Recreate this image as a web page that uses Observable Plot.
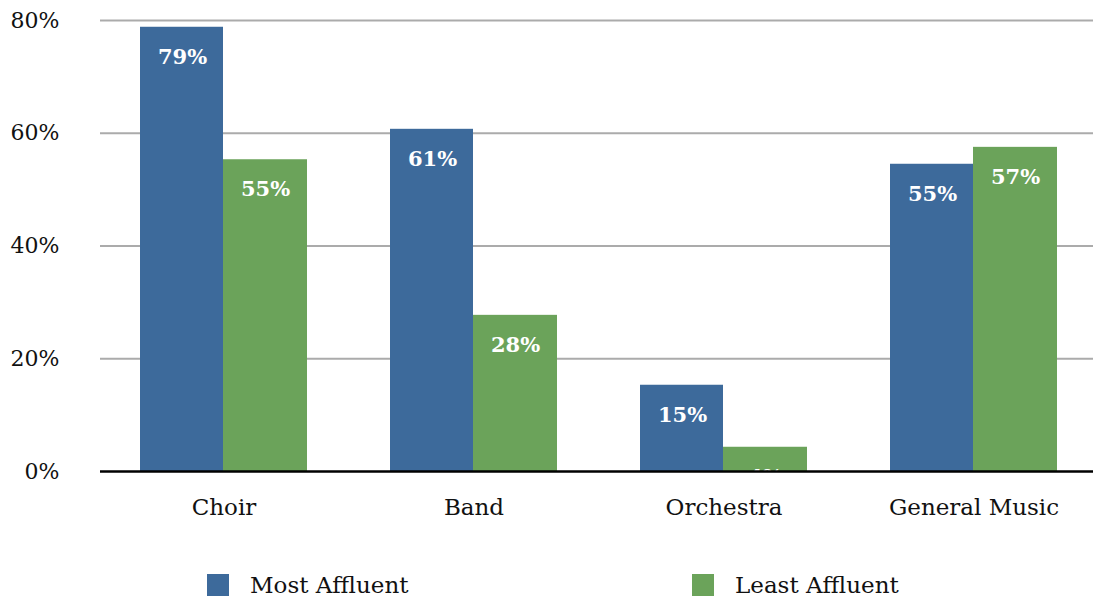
<!DOCTYPE html>
<html>
<head>
<meta charset="utf-8">
<script src="https://cdn.jsdelivr.net/npm/d3@7"></script>
<script src="https://cdn.jsdelivr.net/npm/@observablehq/plot@0.6"></script>
<style>
  html, body { margin: 0; padding: 0; background: #fff; }
  #wrap { width: 1093px; font-family: "DejaVu Serif", serif; }
  #legend { position: relative; width: 1093px; height: 54px; }
  .sw { position: absolute; top: 29px; width: 22px; height: 22px; }
  .lt { position: absolute; top: 26px; font-size: 23px; line-height: 28px; color: #111; }
</style>
</head>
<body>
<div id="wrap"></div>
<script>
const categories = ["Choir", "Band", "Orchestra", "General Music"];
const series = ["Most Affluent", "Least Affluent"];
const mostAffluent = [78.8, 60.7, 15.3, 54.5];
const leastAffluent = [55.3, 27.7, 4.3, 57.5];
const mostLabels = ["79%", "61%", "15%", "55%"];
const leastLabels = ["55%", "28%", "4%", "57%"];
const yTicks = [0, 20, 40, 60, 80];
const colors = ["#3D6A9B", "#6BA35A"];

const most = categories.map((c, i) => ({category: c, value: mostAffluent[i], label: mostLabels[i]}));
const least = categories.map((c, i) => ({category: c, value: leastAffluent[i], label: leastLabels[i]}));

const chart = Plot.plot({
  width: 1093,
  height: 545,
  marginLeft: 100,
  marginRight: -4,
  marginTop: 20,
  marginBottom: 74,
  style: {fontFamily: "DejaVu Serif, serif", fontSize: "22px", color: "#111", background: "#fff"},
  x: {domain: categories, paddingInner: 0.332, paddingOuter: 0.16, label: null, tickSize: 0, tickPadding: 27},
  y: {domain: [0, 80], ticks: yTicks, tickFormat: d => d + "%", tickSize: 0, tickPadding: 41, label: null},
  marks: [
    Plot.ruleY(yTicks.filter(d => d > 0), {stroke: "#ababab", strokeWidth: 2}),
    Plot.barY(most, {x: "category", y: "value", fill: colors[0], insetRight: 84}),
    Plot.barY(least, {x: "category", y: "value", fill: colors[1], insetLeft: 83}),
    Plot.text(most, {x: "category", y: "value", text: "label", dx: -41.5, dy: 30, fill: "white", fontWeight: "bold", fontSize: 21}),
    Plot.text(least, {x: "category", y: "value", text: "label", dx: 41.5, dy: 30, fill: "white", fontWeight: "bold", fontSize: 21}),
    Plot.ruleY([0], {stroke: "#000", strokeWidth: 2.5})
  ]
});
chart.querySelectorAll("g[aria-label^='x-axis']").forEach(g => {
  g.setAttribute("font-size", "23");
  g.querySelectorAll("text").forEach(t => t.setAttribute("font-size", "23"));
});
chart.querySelectorAll("g[aria-label^='y-axis']").forEach(g => {
  g.setAttribute("font-size", "22");
  g.querySelectorAll("text").forEach(t => t.setAttribute("font-size", "22"));
});

const wrap = document.getElementById("wrap");
wrap.appendChild(chart);

const legend = document.createElement("div");
legend.id = "legend";
const pos = [[207, 250], [692, 735]];
series.forEach((s, i) => {
  const sw = document.createElement("div");
  sw.className = "sw";
  sw.style.left = pos[i][0] + "px";
  sw.style.background = colors[i];
  const lt = document.createElement("div");
  lt.className = "lt";
  lt.style.left = pos[i][1] + "px";
  lt.textContent = s;
  legend.appendChild(sw);
  legend.appendChild(lt);
});
wrap.appendChild(legend);
</script>
</body>
</html>
